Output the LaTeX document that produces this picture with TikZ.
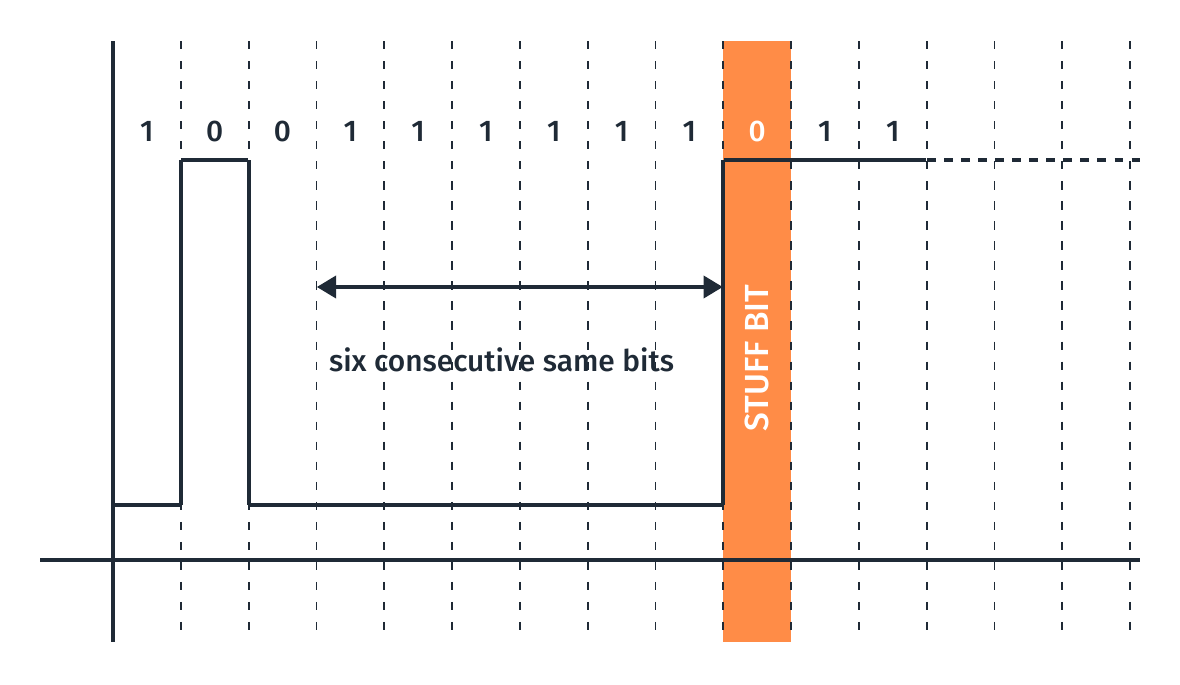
\documentclass[tikz,border=0pt]{standalone}
\usepackage{fontspec}
\setmainfont{Fira Sans}[UprightFont={* Medium}]
\usetikzlibrary{arrows,arrows.meta}
\definecolor{ink}{HTML}{1F2A36}
\definecolor{stuffc}{HTML}{FF8C47}
\tikzstyle{invis} = [draw=none, inner sep=0pt, minimum size=0pt]
\tikzstyle{gridline} = [-, ink, line width=1pt, dash pattern=on 4.7pt off 6.7pt]
\tikzstyle{axis} = [-, ink, line width=2.2pt]
\tikzstyle{signal} = [ink, line width=2.2pt]
\tikzstyle{bit} = [draw=none, text=ink, font=\fontsize{17}{19}\selectfont]

\begin{document}
\begin{tikzpicture}[x=1.356cm,y=1.356cm,>={Triangle[length=11pt,width=12.5pt]}]

    \useasboundingbox (-1.667,-1.829) rectangle (15.737,8.260);

    % stuff bit column
    \fill [stuffc] (9,7.655) rectangle (10,-1.209);
    \node[invis] at (9.5,2.98) (stuff) [rotate=90, text=white, font=\fontsize{19}{21}\selectfont] {STUFF BIT};

    %=====================

    \path
    (1,7.655) edge [gridline] node {} (1,-1.209)
    (2,7.655) edge [gridline] node {} (2,-1.209)
    (3,7.655) edge [gridline] node {} (3,-1.209)
    (4,7.655) edge [gridline] node {} (4,-1.209)
    (5,7.655) edge [gridline] node {} (5,-1.209)
    (6,7.655) edge [gridline] node {} (6,-1.209)
    (7,7.655) edge [gridline] node {} (7,-1.209)
    (8,7.655) edge [gridline] node {} (8,-1.209)
    (9,7.655) edge [gridline] node {} (9,-1.209)
    (10,7.655) edge [gridline] node {} (10,-1.209)
    (11,7.655) edge [gridline] node {} (11,-1.209)
    (12,7.655) edge [gridline] node {} (12,-1.209)
    (13,7.655) edge [gridline] node {} (13,-1.209)
    (14,7.655) edge [gridline] node {} (14,-1.209)
    (15,7.655) edge [gridline] node {} (15,-1.209);

    %=====================

    \node[invis] at (0,7.655) (yt) [] {};
    \node[invis] at (0,-1.209) (yb) [] {};
    \node[invis] at (-1.077,0) (xl) [] {};
    \node[invis] at (15.147,0) (xr) [] {};

    \path
    (yt) edge [axis] node {} (yb)
    (xl) edge [axis] node {} (xr);

    %=====================

    \node[invis] at (0,0.811) (s0) [] {};
    \node[invis] at (1,0.811) (s1) [] {};
    \node[invis] at (1,5.9) (s2) [] {};
    \node[invis] at (2,5.9) (s3) [] {};
    \node[invis] at (2,0.811) (s4) [] {};
    \node[invis] at (9,0.811) (s5) [] {};
    \node[invis] at (9,5.9) (s6) [] {};
    \node[invis] at (12,5.9) (s7) [] {};
    \node[invis] at (15.147,5.9) (s8) [] {};

    \draw [signal] (s0) -- (s1) -- (s2) -- (s3) -- (s4) -- (s5) -- (s6) -- (s7);
    \draw [signal, dash pattern=on 5.1pt off 4.6pt] (s7) -- (s8);

    %=====================

    \node[bit] at (0.5,6.327) (b1) [] {1};
    \node[bit] at (1.5,6.327) (b2) [] {0};
    \node[bit] at (2.5,6.327) (b3) [] {0};
    \node[bit] at (3.5,6.327) (b4) [] {1};
    \node[bit] at (4.5,6.327) (b5) [] {1};
    \node[bit] at (5.5,6.327) (b6) [] {1};
    \node[bit] at (6.5,6.327) (b7) [] {1};
    \node[bit] at (7.5,6.327) (b8) [] {1};
    \node[bit] at (8.5,6.327) (b9) [] {1};
    \node[bit] at (9.5,6.327) (b10) [text=white] {0};
    \node[bit] at (10.5,6.327) (b11) [] {1};
    \node[bit] at (11.5,6.327) (b12) [] {1};

    %=====================

    \node[invis] at (3,4.027) (al) [] {};
    \node[invis] at (9,4.027) (ar) [] {};

    \path
    (al) edge [signal, <->] node {} (ar);

    \node[bit] at (5.73,2.95) (six) [] {six consecutive same bits};

\end{tikzpicture}
\end{document}
